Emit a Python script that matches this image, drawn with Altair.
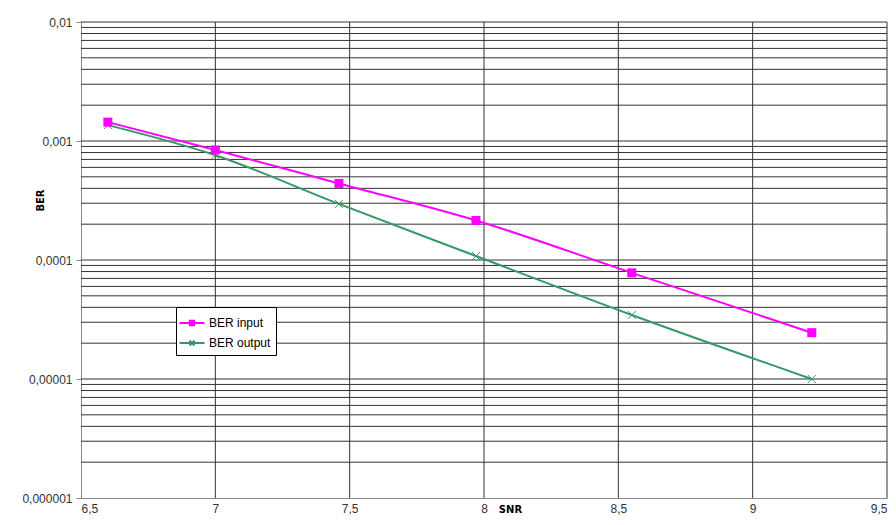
import altair as alt
import pandas as pd

# data
snr = [6.6, 7.0, 7.46, 7.97, 8.55, 9.22]
ber_input = [1.44e-3, 8.4e-4, 4.4e-4, 2.15e-4, 7.8e-5, 2.45e-5]
ber_output = [1.36e-3, 7.6e-4, 2.96e-4, 1.08e-4, 3.45e-5, 1.0e-5]
series_names = ["BER input", "BER output"]
x_ticks = [6.5, 7.0, 7.5, 8.0, 8.5, 9.0, 9.5]
y_ticks = [1e-6, 1e-5, 1e-4, 1e-3, 1e-2]

MAGENTA = "#FF00FF"
GREEN = "#339966"
GRID = "#333333"
AXIS = "#888888"

df_in = pd.DataFrame({"snr": snr, "ber": ber_input})
df_out = pd.DataFrame({"snr": snr, "ber": ber_output})

y_grid_vals = []
for dec in [1e-6, 1e-5, 1e-4, 1e-3]:
    for m in range(1, 10):
        y_grid_vals.append(m * dec)
y_grid_vals.append(1e-2)
y_grid_vals = [v for v in y_grid_vals if v > 1e-6]
df_ygrid = pd.DataFrame({"v": y_grid_vals})
df_xgrid = pd.DataFrame({"v": [v for v in x_ticks if v > 6.5]})
df_leg = pd.DataFrame({"series": series_names})

xscale = alt.Scale(domain=[6.5, 9.5], nice=False, zero=False)
yscale = alt.Scale(type="log", domain=[1e-6, 1e-2], nice=False)

x_axis = alt.Axis(
    values=x_ticks, grid=False, tickSize=0, domainColor=AXIS,
    labelExpr="replace(format(datum.value, '~g'), '.', ',')",
    labelFont="Liberation Sans", labelFontSize=12, labelColor="#333333",
    labelPadding=5, title="SNR", titleFont="DejaVu Sans", titleFontSize=10,
    titleFontWeight="bold", titleX=429, titleY=11, titleBaseline="middle",
    titleAlign="center", titleColor="#000000",
)
y_axis = alt.Axis(
    values=y_ticks, grid=False, tickSize=5, tickColor=AXIS, domainColor=AXIS,
    labelExpr="replace(format(datum.value, '.6~f'), '.', ',')",
    labelFont="Liberation Sans", labelFontSize=12, labelColor="#333333",
    labelPadding=4, title="BER", titleFont="DejaVu Sans", titleFontSize=10,
    titleFontWeight="bold", titleX=-41, titleY=178, titleAngle=-90,
    titleBaseline="middle", titleAlign="center", titleColor="#000000",
)

ygrid = alt.Chart(df_ygrid).mark_rule(color=GRID, strokeWidth=1).encode(
    y=alt.Y("v:Q", scale=yscale, axis=y_axis)
)
xgrid = alt.Chart(df_xgrid).mark_rule(color=GRID, strokeWidth=1).encode(
    x=alt.X("v:Q", scale=xscale, axis=x_axis)
)

line_in = alt.Chart(df_in).mark_line(color=MAGENTA, strokeWidth=2, interpolate="monotone").encode(
    x=alt.X("snr:Q", scale=xscale), y=alt.Y("ber:Q", scale=yscale)
)
pts_in = alt.Chart(df_in).mark_point(shape="square", filled=True, color=MAGENTA, size=81, opacity=1).encode(
    x=alt.X("snr:Q", scale=xscale), y=alt.Y("ber:Q", scale=yscale)
)
line_out = alt.Chart(df_out).mark_line(color=GREEN, strokeWidth=2, interpolate="monotone").encode(
    x=alt.X("snr:Q", scale=xscale), y=alt.Y("ber:Q", scale=yscale)
)
pts_out = alt.Chart(df_out).mark_point(
    shape="M-1,-1L1,1M-1,1L1,-1", filled=False, color=GREEN, size=64, strokeWidth=1, opacity=1
).encode(
    x=alt.X("snr:Q", scale=xscale), y=alt.Y("ber:Q", scale=yscale)
)

leg_paths = [
    "M-1.25,0H1.25M-0.22,-0.22H0.22V0.22H-0.22Z",
    "M-1.25,0H1.25M-0.25,-0.25L0.25,0.25M-0.25,0.25L0.25,-0.25",
]
legend = alt.Legend(
    title=None, orient="none", legendX=95, legendY=285, symbolSize=400,
    symbolStrokeWidth=2, labelFont="Liberation Sans", labelFontSize=12,
    labelColor="#000000", labelOffset=6, strokeColor="#000000", fillColor="#FFFFFF",
    padding=5, rowPadding=2,
)
leg_layer = alt.Chart(df_leg).mark_point(clip=True, opacity=1).encode(
    x=alt.value(-2000), y=alt.value(-2000),
    stroke=alt.Stroke("series:N", scale=alt.Scale(domain=series_names, range=[MAGENTA, GREEN]), legend=legend),
    fill=alt.Fill("series:N", scale=alt.Scale(domain=series_names, range=[MAGENTA, "transparent"]), legend=legend),
    shape=alt.Shape("series:N", scale=alt.Scale(domain=series_names, range=leg_paths), legend=legend),
)

chart = alt.layer(ygrid, xgrid, line_out, line_in, pts_out, pts_in, leg_layer).properties(
    width=806, height=476,
    autosize=alt.AutoSizeParams(type="none"),
    padding={"left": 73, "top": 14, "right": 1, "bottom": 19},
    background="#FFFFFF",
).configure_view(stroke=None)

chart.save("out.html", embed_options={"renderer": "svg", "actions": False})
